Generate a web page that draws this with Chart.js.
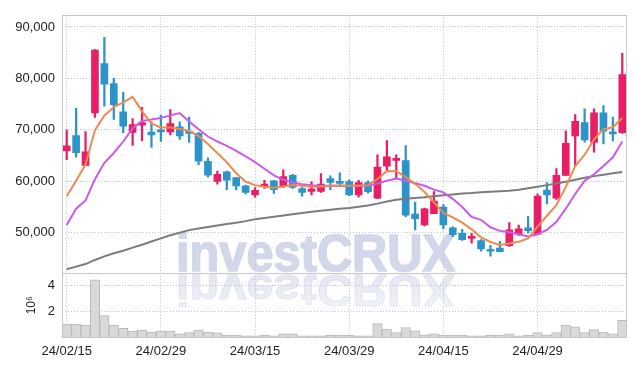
<!DOCTYPE html>
<html>
<head>
<meta charset="utf-8">
<script src="https://cdn.jsdelivr.net/npm/chart.js@4"></script>
<style>
  html, body { margin: 0; padding: 0; background: #fff; }
  #wrap { width: 635px; height: 366px; }
</style>
</head>
<body>
<div id="wrap"><canvas id="chart" width="635" height="366"></canvas></div>
<script>
// trading days
const dates = [
  "24/02/15", "24/02/16", "24/02/19", "24/02/20", "24/02/21", "24/02/22", "24/02/23", "24/02/26", "24/02/27", "24/02/28",
  "24/02/29", "24/03/04", "24/03/05", "24/03/06", "24/03/07", "24/03/08", "24/03/11", "24/03/12", "24/03/13", "24/03/14",
  "24/03/15", "24/03/18", "24/03/19", "24/03/20", "24/03/21", "24/03/22", "24/03/25", "24/03/26", "24/03/27", "24/03/28",
  "24/03/29", "24/04/01", "24/04/02", "24/04/03", "24/04/04", "24/04/05", "24/04/08", "24/04/09", "24/04/11", "24/04/12",
  "24/04/15", "24/04/16", "24/04/17", "24/04/18", "24/04/19", "24/04/22", "24/04/23", "24/04/24", "24/04/25", "24/04/26",
  "24/04/29", "24/04/30", "24/05/02", "24/05/03", "24/05/07", "24/05/08", "24/05/09", "24/05/10", "24/05/13", "24/05/14"
];

// OHLC
const opens = [
  65900, 68900, 63100, 73300, 82900, 79000, 73500, 69500, 70900, 69550,
  69950, 69600, 70600, 69650, 69300, 63900, 59950, 61850, 60700, 59100,
  57350, 58950, 60100, 59000, 61150, 58600, 58050, 58050, 60500, 59950,
  59950, 57350, 59750, 56700, 62950, 64050, 64000, 53600, 51500, 53700,
  55000, 50950, 49900, 48900, 48450, 46700, 47000, 47500, 49700, 50950,
  49700, 58300, 56700, 61150, 68800, 71400, 67550, 73300, 69550, 69450
];
const highs = [
  69950, 74200, 69650, 85600, 88000, 80000, 77300, 72200, 74400, 71550,
  72800, 73950, 71550, 72500, 69450, 64550, 62000, 62000, 60700, 59250,
  58750, 60200, 60200, 62200, 61350, 58800, 59900, 61500, 61050, 61650,
  60300, 60200, 60100, 65150, 67900, 65150, 66950, 55950, 54800, 58000,
  55450, 51150, 50650, 49900, 48650, 47550, 48300, 51950, 51500, 53200,
  57550, 59750, 62450, 69800, 72950, 74100, 74100, 74700, 72500, 84900
];
const lows = [
  64200, 64700, 63050, 72400, 74600, 72050, 69450, 66950, 67850, 66600,
  67750, 69000, 68150, 67550, 63250, 60800, 59450, 58350, 58300, 57550,
  56900, 58600, 57650, 58800, 58600, 57100, 57350, 57850, 58350, 59150,
  57200, 56900, 57700, 56600, 62000, 60700, 53100, 50550, 51300, 53700,
  50750, 49250, 48500, 47950, 46400, 45450, 46250, 47350, 49450, 49900,
  49550, 55600, 56450, 61150, 62950, 67600, 65650, 67250, 67850, 69300
];
const closes = [
  66900, 65550, 65700, 85500, 78900, 74900, 70700, 71000, 71400, 69000,
  69600, 71200, 68800, 69300, 63900, 61200, 61350, 60200, 59100, 57850,
  58250, 59450, 58350, 60900, 58800, 57850, 58500, 59450, 59800, 59600,
  57350, 59750, 58000, 62750, 64750, 64350, 53400, 52750, 54650, 56150,
  51500, 49600, 48650, 49050, 46850, 46400, 46300, 50550, 50750, 50400,
  57100, 57350, 61150, 67400, 71650, 68050, 73300, 69750, 69200, 80750
];

// moving averages
const ma5 = [
  57100, 60100, 63250, 69950, 72800, 74400, 75350, 76400, 73600, 71200,
  70450, 70450, 70150, 69800, 68800, 67250, 65500, 63700, 61550, 59900,
  59250, 58950, 58750, 59000, 59250, 59130, 58950, 59000, 59130, 59130,
  59130, 59130, 59250, 60400, 62000, 61950, 60800, 59500, 57900, 55900,
  53850, 53000, 51950, 50650, 49100, 48200, 47600, 47900, 48250, 48900,
  51200, 53300, 55330, 58900, 62940, 65150, 68170, 70150, 70490, 72300
];
const ma20 = [
  51490, 54670, 56270, 60400, 63590, 65500, 67730, 70270, 71740, 71990,
  72310, 72810, 73270, 71600, 70100, 68700, 67730, 66890, 65930, 64860,
  63720, 62440, 61160, 60280, 59770, 59440, 59250, 59130, 59130, 59130,
  59130, 59130, 59130, 59570, 60090, 60530, 60090, 59630, 59130, 58370,
  57850, 56580, 54990, 53080, 52500, 51050, 50350, 50090, 49700, 49260,
  49700, 50540, 52120, 54670, 57530, 60090, 61350, 62950, 64670, 67730
];
const ma60 = [
  42900, 43400, 43900, 44700, 45400, 46000, 46500, 47100, 47650, 48300,
  48900, 49500, 50000, 50500, 50800, 51100, 51400, 51700, 51950, 52250,
  52600, 52850, 53100, 53350, 53600, 53850, 54050, 54250, 54450, 54650,
  54800, 55050, 55300, 55650, 56050, 56400, 56600, 56750, 56900, 57100,
  57300, 57450, 57600, 57700, 57850, 57950, 58050, 58150, 58350, 58650,
  58950, 59250, 59550, 59900, 60300, 60700, 61000, 61250, 61550, 61800
];

// volume, millions of shares
const volumes = [
  1.02, 1.02, 0.95, 4.42, 1.69, 0.95, 0.70, 0.50, 0.57, 0.42,
  0.50, 0.50, 0.28, 0.37, 0.57, 0.42, 0.35, 0.18, 0.18, 0.13,
  0.13, 0.18, 0.13, 0.28, 0.28, 0.13, 0.13, 0.13, 0.18, 0.18,
  0.18, 0.13, 0.13, 1.07, 0.65, 0.37, 0.77, 0.52, 0.20, 0.28,
  0.18, 0.18, 0.18, 0.13, 0.13, 0.18, 0.18, 0.28, 0.13, 0.18,
  0.37, 0.20, 0.37, 0.95, 0.82, 0.37, 0.60, 0.42, 0.28, 1.32
];

const xTickIdx = [0, 10, 20, 30, 40, 50];
const priceTicks = [50000, 60000, 70000, 80000, 90000];
const volTicks = [2, 4];

const UP = "#e81f66";
const DOWN = "#2c94c9";
const candleColors = opens.map((o, i) => closes[i] >= o ? UP : DOWN);
const GRID = "#bfbfd8";

const watermark = {
  id: "watermark",
  beforeDraw(chart) {
    const ctx = chart.ctx;
    ctx.save();
    ctx.font = 'bold 51px "Liberation Sans", Arial, sans-serif';
    ctx.textAlign = "left";
    ctx.textBaseline = "alphabetic";
    ctx.lineJoin = "round";
    ctx.fillStyle = "#d2d7ea";
    ctx.strokeStyle = "#d2d7ea";
    ctx.lineWidth = 1.6;
    ctx.fillText("investCRUX", 176, 271, 279);
    ctx.strokeText("investCRUX", 176, 271, 279);
    // mirrored copy
    ctx.translate(0, 275);
    ctx.scale(1, -0.86);
    const g = ctx.createLinearGradient(0, 0, 0, -40);
    g.addColorStop(0, "rgba(214,219,236,0.65)");
    g.addColorStop(1, "rgba(214,219,236,0.35)");
    ctx.fillStyle = g;
    ctx.strokeStyle = g;
    ctx.fillText("investCRUX", 176, 0, 279);
    ctx.strokeText("investCRUX", 176, 0, 279);
    ctx.restore();
  }
};

const frame = {
  id: "frame",
  afterDatasetsDraw(chart) {
    const { ctx, chartArea: a, scales } = chart;
    ctx.save();
    ctx.strokeStyle = "#c6c6c6";
    ctx.lineWidth = 1;
    ctx.strokeRect(Math.round(a.left) + 0.5, Math.round(a.top) + 0.5,
      Math.round(a.right - a.left) - 1, Math.round(a.bottom - a.top) - 1);
    const y = Math.round(scales.y.bottom) + 0.5;
    ctx.beginPath();
    ctx.moveTo(a.left, y);
    ctx.lineTo(a.right, y);
    ctx.stroke();
    ctx.restore();
  }
};

Chart.defaults.font.family = '"Liberation Sans", Arial, sans-serif';
Chart.defaults.font.size = 13;
Chart.defaults.color = "#222";

const pts = arr => arr.map((v, i) => ({ x: i, y: v }));

new Chart(document.getElementById("chart"), {
  type: "bar",
  data: {
    datasets: [
      {
        type: "line", label: "MA5", data: pts(ma5), yAxisID: "y",
        borderColor: "#ef8a4f", borderWidth: 2, pointRadius: 0, order: 0
      },
      {
        type: "line", label: "MA20", data: pts(ma20), yAxisID: "y",
        borderColor: "#c95aec", borderWidth: 2, pointRadius: 0, order: 0
      },
      {
        type: "line", label: "MA60", data: pts(ma60), yAxisID: "y",
        borderColor: "#7c7c7c", borderWidth: 2, pointRadius: 0, order: 0
      },
      {
        label: "wick", data: lows.map((l, i) => ({ x: i, y: [l, highs[i]] })), yAxisID: "y",
        backgroundColor: candleColors, barThickness: 1.6, grouped: false, order: 1
      },
      {
        label: "body", data: opens.map((o, i) => ({ x: i, y: [o, closes[i]] })), yAxisID: "y",
        backgroundColor: candleColors, barThickness: 7, minBarLength: 2, grouped: false, order: 1
      },
      {
        label: "volume", data: pts(volumes), yAxisID: "yv",
        backgroundColor: "#d9d9d9", borderColor: "#b9b9b9", borderWidth: 1,
        barPercentage: 1, categoryPercentage: 1, grouped: false, order: 2
      }
    ]
  },
  options: {
    responsive: false,
    animation: false,
    layout: { padding: { top: 9, right: 8, left: 0, bottom: 0 } },
    plugins: { legend: { display: false }, tooltip: { enabled: false } },
    scales: {
      x: {
        type: "linear", min: -0.5, max: 59.5, offset: false,
        afterBuildTicks: s => { s.ticks = xTickIdx.map(v => ({ value: v })); },
        afterFit: s => { s.height = 28.5; },
        ticks: { callback: v => dates[v] ?? "", padding: 6, maxRotation: 0 },
        grid: { color: GRID, drawTicks: false, offset: false },
        border: { display: false, dash: [1, 2] }
      },
      yv: {
        type: "linear", position: "left", stack: "panes", stackWeight: 1,
        min: 0, max: 4.95,
        afterBuildTicks: s => { s.ticks = volTicks.map(v => ({ value: v })); },
        afterFit: s => { s.width = 62; },
        ticks: { padding: 7 },
        title: { display: true, text: "10\u2076", font: { size: 12 }, padding: { top: 24, bottom: 0 } },
        grid: { color: GRID, drawTicks: false },
        border: { display: false, dash: [1, 2] }
      },
      y: {
        type: "linear", position: "left", stack: "panes", stackWeight: 4,
        min: 42170, max: 92370,
        afterBuildTicks: s => { s.ticks = priceTicks.map(v => ({ value: v })); },
        afterFit: s => { s.width = 62; },
        ticks: { padding: 7, callback: v => v.toLocaleString("en-US") },
        grid: { color: GRID, drawTicks: false },
        border: { display: false, dash: [1, 2] }
      }
    }
  },
  plugins: [watermark, frame]
});
</script>
</body>
</html>
